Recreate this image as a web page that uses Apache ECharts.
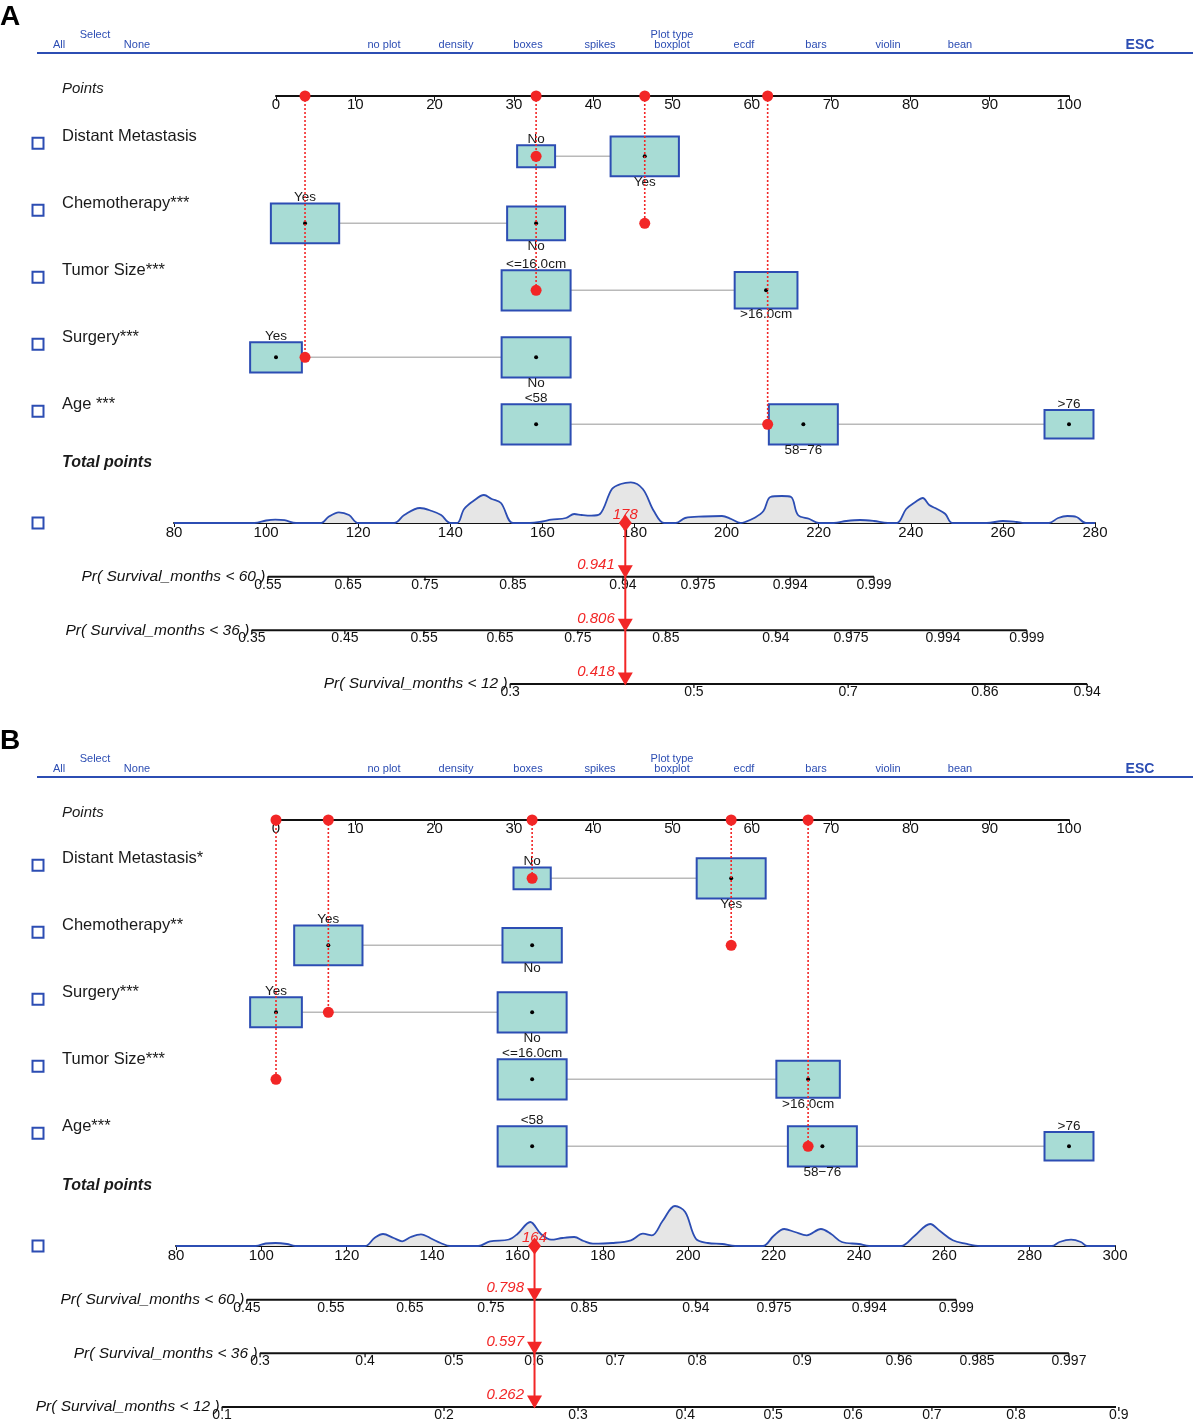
<!DOCTYPE html>
<html><head><meta charset="utf-8"><title>Nomogram</title>
<script src="https://cdn.jsdelivr.net/npm/echarts@6.0.0/dist/echarts.min.js"></script>
<style>html,body{margin:0;padding:0;background:#fff;}#chart{width:1193px;height:1421px;}</style>
</head><body><div id="chart"></div>
<script>
// ---------------- DATA ----------------
const menuItems = ['All','None','no plot','density','boxes','spikes','boxplot','ecdf','bars','violin','bean'];
const menuUpper = ['Select','Plot type'];
const menuEsc = 'ESC';
const panelLetters = ['A','B'];
const pointsTitle = 'Points';
const totalTitle = 'Total points';
const probTitles = ['Pr( Survival_months < 60 )','Pr( Survival_months < 36 )','Pr( Survival_months < 12 )'];

// Panel A
const varNamesA = ['Distant Metastasis','Chemotherapy***','Tumor Size***','Surgery***','Age ***'];
const levelsA = [['No','Yes'],['Yes','No'],['<=16.0cm','>16.0cm'],['Yes','No'],['<58','58\u221276','>76']];
const levelPointsA = [[32.8,46.5],[3.66,32.8],[32.8,61.8],[0,32.8],[32.8,66.5,100]];
const levelFreqA = [[0.55,0.99],[0.99,0.84],[1.0,0.91],[0.75,1.0],[1.0,1.0,0.71]];
const obsLinePointsA = [3.66,32.8,46.5,62.0];
const obsLineRowA = [4,3,2,5];
const obsDotsA = [[32.8,1],[46.5,2],[32.8,3],[3.66,4],[62.0,5]];
const densityA = [[80,0],[97.5,0],[100,2.5],[102,3.3],[104,2.8],[106.5,0],[112,0],[113.5,6],[115.8,10.7],[118,8],[120,0],[127.8,0],[130,8],[133.4,15],[136,12],[138,8],[140,0],[141.5,0],[143,14],[145,22],[147.3,28],[149,24],[151,20],[153.6,0],[157.3,0],[160,1.5],[161.9,3.3],[165.1,5],[166.9,9],[168.5,8],[170.6,7.3],[172.5,9],[175.1,34],[177,39],[179.2,40.7],[181.8,34],[184.2,12],[186.4,0],[189,0],[191,5],[195,6.5],[199,7],[201,4],[203,0],[204,1],[206,5],[208,12],[209.5,26],[212,27],[214,26],[215.5,8],[218,4],[220,0],[223.3,0],[226,2],[229,3],[232,2],[235,0],[237,0],[239,14],[241,21],[242.6,25],[244,18],[245.7,14],[247.5,9],[249,0],[256.5,0],[260,2],[263,1],[264.6,0],[270,0],[272,5],[274,7],[276,6],[278,0],[280,0]];
const probTicksA = [[100.4,117.8,134.5,153.6,177.5,193.8,213.8,232.0],[96.9,117.1,134.3,150.8,167.7,186.8,210.7,227.0,247.0,265.2],[153.0,192.9,226.4,256.1,278.3]];
const probLabelsA = [['0.55','0.65','0.75','0.85','0.94','0.975','0.994','0.999'],['0.35','0.45','0.55','0.65','0.75','0.85','0.94','0.975','0.994','0.999'],['0.3','0.5','0.7','0.86','0.94']];
const totalSelA = 178;
const probSelA = ['0.941','0.806','0.418'];

// Panel B
const varNamesB = ['Distant Metastasis*','Chemotherapy**','Surgery***','Tumor Size***','Age***'];
const levelsB = [['No','Yes'],['Yes','No'],['Yes','No'],['<=16.0cm','>16.0cm'],['<58','58\u221276','>76']];
const levelPointsB = [[32.3,57.4],[6.6,32.3],[0,32.3],[32.3,67.1],[32.3,68.9,100]];
const levelFreqB = [[0.54,1.0],[0.99,0.86],[0.75,1.0],[1.0,0.92],[1.0,1.0,0.71]];
const obsLinePointsB = [0,6.6,32.3,57.4,67.1];
const obsLineRowB = [4,3,1,2,5];
const obsDotsB = [[32.3,1],[57.4,2],[6.6,3],[0,4],[67.1,5]];
const densityB = [[80,0],[98.7,0],[101,2.5],[103.3,3],[106,2],[107.9,0],[124.3,0],[126.5,8],[128.5,12],[131,8],[133,4.7],[135,9],[137.4,11.7],[140,7],[142,3],[144.2,0],[150.8,0],[153.6,4.7],[158,6.5],[160,12],[163,24],[165.5,12],[167.9,6.3],[170.5,8],[173.3,9],[175.5,5],[177.7,2.3],[182.2,3],[186.6,5.7],[189.4,12.3],[191.5,10.7],[194,25],[196.9,40],[199.3,34],[201.8,7.3],[204.6,3],[208,2],[211,0],[217.5,0],[220,10],[222.5,17],[225,14],[227.8,10.7],[231.1,17],[233.5,12],[236,4],[240,2],[242.4,0],[249.9,0],[253,10],[256.7,22],[259,15],[262,5.7],[265,2.3],[268.4,0],[285.2,0],[287,4],[289.7,6.3],[292,4],[293.4,0],[300,0]];
const probTicksB = [[96.6,116.3,134.8,153.8,175.6,201.8,220.1,242.4,262.8],[99.7,124.3,145.1,163.9,182.9,202.1,226.7,249.4,267.7,289.2],[90.8,142.8,174.2,199.3,219.9,238.6,257.1,276.8,300.9]];
const probLabelsB = [['0.45','0.55','0.65','0.75','0.85','0.94','0.975','0.994','0.999'],['0.3','0.4','0.5','0.6','0.7','0.8','0.9','0.96','0.985','0.997'],['0.1','0.2','0.3','0.4','0.5','0.6','0.7','0.8','0.9']];
const totalSelB = 164;
const probSelB = ['0.798','0.597','0.262'];

// ---------------- LAYOUT / STYLE ----------------
const FONT = 'Liberation Sans, Arial, sans-serif';
const BLUE = '#2c4db3';
const RED = '#f22626';
const ROW_PX = 67, PROB_PX = 53.67;
const BOX_W = 8.7, BOX_H = 0.6;
const PTS_LEFT = 276, PTS_WIDTH = 793;
const layouts = [
  {dy:0, ptsTop:96, rowOff:0.9, totLeft:174, totRight:1095, totMin:80, totMax:280, totY:523},
  {dy:724, ptsTop:820, rowOff:0.87, totLeft:176, totRight:1115, totMin:80, totMax:300, totY:1246}
];
const panelData = [
  {names:varNamesA, levels:levelsA, pts:levelPointsA, freq:levelFreqA, obsPts:obsLinePointsA, obsRow:obsLineRowA, obsDots:obsDotsA, dens:densityA, ticks:probTicksA, tickLabels:probLabelsA, tot:totalSelA, sel:probSelA},
  {names:varNamesB, levels:levelsB, pts:levelPointsB, freq:levelFreqB, obsPts:obsLinePointsB, obsRow:obsLineRowB, obsDots:obsDotsB, dens:densityB, ticks:probTicksB, tickLabels:probLabelsB, tot:totalSelB, sel:probSelB}
];
const menuX = [59,137,384,456,528,600,672,744,816,888,960];
const menuUpperX = [95,672];

const grids = [], xAxes = [], yAxes = [], series = [], graphics = [];

function txt(text, x, y, o) {
  o = o || {};
  graphics.push({type:'text', x:x, y:y, silent:true, style:{text:text, fill:o.fill||'#1a1a1a', fontSize:o.size||15, fontFamily:FONT,
    fontStyle:o.italic?'italic':'normal', fontWeight:o.bold?'bold':'normal',
    align:o.align||'left', textAlign:o.align||'left', verticalAlign:'middle', textVerticalAlign:'middle'}});
}
function checkbox(x, y) {
  graphics.push({type:'rect', silent:true, shape:{x:x-5.5, y:y-5.5, width:11, height:11}, style:{fill:'none', stroke:BLUE, lineWidth:2}});
}

layouts.forEach(function(P, pi){
  const D = panelData[pi];
  const g0 = pi*3;
  const rowV = k => k - 1 + P.rowOff;           // row number -> y value
  const rowPx = k => P.ptsTop + rowV(k)*ROW_PX;  // for side texts

  grids.push({left:PTS_LEFT, top:P.ptsTop, width:PTS_WIDTH, height:5.5*ROW_PX});
  grids.push({left:P.totLeft, top:P.totY-46, width:P.totRight-P.totLeft, height:46});
  grids.push({left:P.totLeft, top:P.totY, width:P.totRight-P.totLeft, height:3*PROB_PX});

  xAxes.push({gridIndex:g0, type:'value', min:0, max:100, interval:10, position:'top',
    axisLine:{onZero:false, lineStyle:{color:'#111', width:2}},
    axisTick:{inside:true, length:5, lineStyle:{color:'#111', width:1}},
    axisLabel:{inside:true, margin:1, fontSize:15, color:'#111', fontFamily:FONT},
    splitLine:{show:false}});
  xAxes.push({gridIndex:g0+1, type:'value', min:P.totMin, max:P.totMax, interval:20, position:'bottom',
    axisLine:{onZero:false, lineStyle:{color:'#111', width:2}},
    axisTick:{inside:false, length:4, lineStyle:{color:'#111', width:1}},
    axisLabel:{margin:2, fontSize:15, color:'#111', fontFamily:FONT},
    splitLine:{show:false}});
  xAxes.push({gridIndex:g0+2, type:'value', min:P.totMin, max:P.totMax, show:false, splitLine:{show:false}});
  yAxes.push({gridIndex:g0, type:'value', min:0, max:5.5, inverse:true, show:false, splitLine:{show:false}});
  yAxes.push({gridIndex:g0+1, type:'value', min:0, max:46, show:false, splitLine:{show:false}});
  yAxes.push({gridIndex:g0+2, type:'value', min:0, max:3, inverse:true, show:false, splitLine:{show:false}});

  // connectors
  D.pts.forEach(function(arr, i){
    series.push({type:'line', xAxisIndex:g0, yAxisIndex:g0, symbol:'none', silent:true, animation:false, z:1,
      lineStyle:{color:'#b9b9b9', width:1.6},
      data:[[Math.min.apply(null,arr), rowV(i+1)],[Math.max.apply(null,arr), rowV(i+1)]]});
  });
  // boxes
  const boxes = [];
  D.pts.forEach(function(arr, i){
    arr.forEach(function(x, j){
      boxes.push({x:x, row:rowV(i+1), s:D.freq[i][j], label:D.levels[i][j], top:(j%2===0)});
    });
  });
  series.push({type:'custom', xAxisIndex:g0, yAxisIndex:g0, silent:true, animation:false, z:2, clip:false,
    data:boxes.map(b=>[b.x, b.row, b.s]),
    renderItem:function(params, api){
      const b = boxes[params.dataIndex];
      const c = api.coord([api.value(0), api.value(1)]);
      const sz = api.size([BOX_W*api.value(2), BOX_H*api.value(2)]);
      const w = Math.abs(sz[0]), h = Math.abs(sz[1]);
      const ty = b.top ? c[1]-h/2+1 : c[1]+h/2-1;
      return {type:'group', children:[
        {type:'rect', shape:{x:c[0]-w/2, y:c[1]-h/2, width:w, height:h}, style:{fill:'#a8dcd5', stroke:BLUE, lineWidth:2}},
        {type:'circle', shape:{cx:c[0], cy:c[1], r:2}, style:{fill:'#000'}},
        {type:'text', x:c[0], y:ty, style:{text:b.label, fill:'#1a1a1a', fontSize:13.5, fontFamily:FONT,
          align:'center', textAlign:'center', verticalAlign:b.top?'bottom':'top', textVerticalAlign:b.top?'bottom':'top'}}
      ]};
    }});
  // observation dotted lines
  D.obsPts.forEach(function(x, i){
    series.push({type:'line', xAxisIndex:g0, yAxisIndex:g0, symbol:'none', silent:true, animation:false, z:3, clip:false,
      lineStyle:{color:RED, width:1.6, type:[2,2]},
      data:[[x, 0],[x, rowV(D.obsRow[i])]]});
  });
  series.push({type:'scatter', xAxisIndex:g0, yAxisIndex:g0, silent:true, animation:false, z:4, clip:false,
    symbolSize:11, itemStyle:{color:RED, opacity:1},
    data:D.obsPts.map(x=>[x,0]).concat(D.obsDots.map(d=>[d[0], rowV(d[1])]))});

  // density
  series.push({type:'line', xAxisIndex:g0+1, yAxisIndex:g0+1, symbol:'none', smooth:0.35, silent:true, animation:false, z:2,
    lineStyle:{color:BLUE, width:1.8}, areaStyle:{color:'#e6e6e6', opacity:1},
    data:D.dens});

  // probability axes
  D.ticks.forEach(function(tk, r){
    series.push({type:'line', xAxisIndex:g0+2, yAxisIndex:g0+2, symbol:'none', silent:true, animation:false, z:2, clip:false,
      lineStyle:{color:'#111', width:2},
      data:[[tk[0], r+1],[tk[tk.length-1], r+1]]});
    series.push({type:'scatter', xAxisIndex:g0+2, yAxisIndex:g0+2, silent:true, animation:false, z:3, clip:false,
      symbol:'rect', symbolSize:[1.3,4], symbolOffset:[0,2], itemStyle:{color:'#111', opacity:1},
      label:{show:true, position:'bottom', distance:-3, fontSize:14, color:'#111', fontFamily:FONT,
        formatter:p=>D.tickLabels[r][p.dataIndex]},
      data:tk.map(t=>[t, r+1])});
    series.push({type:'scatter', xAxisIndex:g0+2, yAxisIndex:g0+2, silent:true, animation:false, z:3, clip:false,
      symbol:'rect', symbolSize:1, itemStyle:{color:'#111', opacity:1},
      label:{show:true, position:'left', distance:2, fontSize:15.5, fontStyle:'italic', color:'#111', fontFamily:FONT,
        formatter:()=>probTitles[r]},
      data:[[tk[0], r+1]]});
  });

  // selected total & predictions
  series.push({type:'line', xAxisIndex:g0+2, yAxisIndex:g0+2, symbol:'none', silent:true, animation:false, z:5, clip:false,
    lineStyle:{color:RED, width:2}, data:[[D.tot,0],[D.tot,3]]});
  series.push({type:'scatter', xAxisIndex:g0+2, yAxisIndex:g0+2, silent:true, animation:false, z:6, clip:false,
    symbol:'triangle', symbolRotate:180, symbolSize:[15,13], symbolOffset:[0,-5], itemStyle:{color:RED, opacity:1},
    label:{show:true, position:'left', distance:3, offset:[0,-7], fontSize:15, fontStyle:'italic', color:RED, fontFamily:FONT,
      formatter:p=>D.sel[p.dataIndex]},
    data:[[D.tot,1],[D.tot,2],[D.tot,3]]});
  series.push({type:'scatter', xAxisIndex:g0+2, yAxisIndex:g0+2, silent:true, animation:false, z:6, clip:false,
    symbol:'diamond', symbolSize:[13,17], itemStyle:{color:RED, opacity:1},
    label:{show:true, position:'top', distance:-8, fontSize:15, fontStyle:'italic', color:RED, fontFamily:FONT,
      formatter:p=>String(p.value[0])},
    data:[[D.tot,0]]});

  // ----- side texts / header -----
  txt(panelLetters[pi], 0, 17+P.dy, {size:28, bold:true, fill:'#000'});
  menuItems.forEach((m,i)=>txt(m, menuX[i], 45+P.dy, {size:11, fill:BLUE, align:'center'}));
  menuUpper.forEach((m,i)=>txt(m, menuUpperX[i], 35+P.dy, {size:11, fill:BLUE, align:'center'}));
  txt(menuEsc, 1140, 45+P.dy, {size:14, bold:true, fill:BLUE, align:'center'});
  graphics.push({type:'line', silent:true, shape:{x1:37, y1:53+P.dy, x2:1193, y2:53+P.dy}, style:{stroke:BLUE, lineWidth:2}});
  txt(pointsTitle, 62, P.ptsTop-7, {size:15, italic:true});
  D.names.forEach(function(n, i){
    txt(n, 62, rowPx(i+1)-20, {size:16.5});
    checkbox(38, rowPx(i+1)-13);
  });
  txt(totalTitle, 62, P.totY-60, {size:16, italic:true, bold:true});
  checkbox(38, P.totY);
});

const chart = echarts.init(document.getElementById('chart'), null, {renderer:'canvas'});
chart.setOption({
  backgroundColor:'#fff',
  animation:false,
  grid:grids, xAxis:xAxes, yAxis:yAxes, series:series, graphic:graphics
});
</script></body></html>
